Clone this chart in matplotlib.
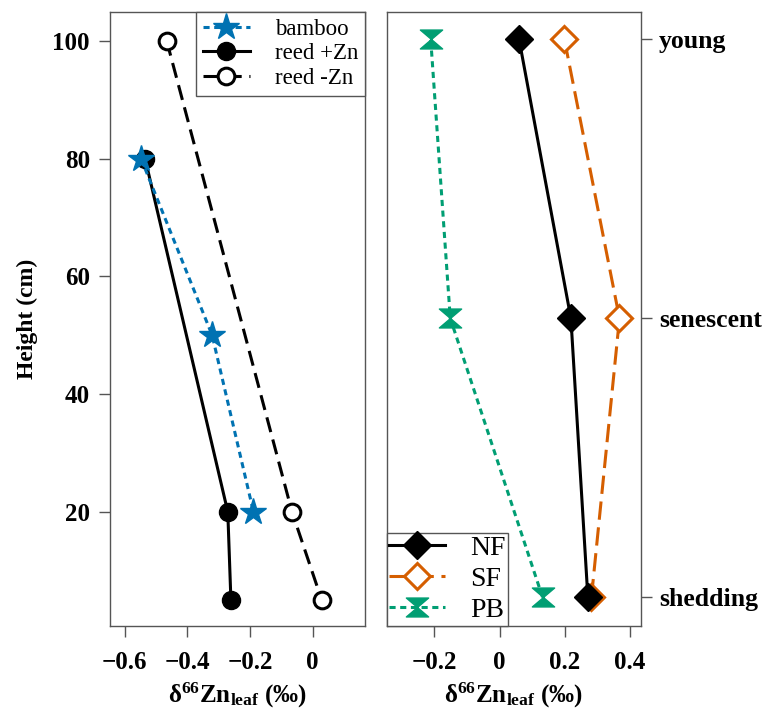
import matplotlib
matplotlib.use("Agg")
import matplotlib.pyplot as plt
from matplotlib.path import Path

# ---- data ----
height = [80, 50, 20]
bamboo = [-0.548, -0.321, -0.189]
height_reed = [100, 80, 20, 5]
reed_plus = [None, -0.535, -0.271, -0.261]
reed_minus = [-0.466, None, -0.066, 0.029]

stages = ["shedding", "senescent", "young"]
stage_pos = [1, 2, 3]
NF = [0.271, 0.219, 0.060]
SF = [0.282, 0.368, 0.199]
PB = [0.132, -0.151, -0.211]

left_xticks = [-0.6, -0.4, -0.2, 0]
left_xticklabels = ["\u22120.6", "\u22120.4", "\u22120.2", "0"]
left_yticks = [20, 40, 60, 80, 100]
right_xticks = [-0.2, 0, 0.2, 0.4]
right_xticklabels = ["\u22120.2", "0", "0.2", "0.4"]

BLUE = "#0072B2"
ORANGE = "#D55E00"
GREEN = "#009E73"
SPINE = "#555555"

plt.rcParams["font.family"] = ["Liberation Serif", "DejaVu Serif"]
plt.rcParams["mathtext.fontset"] = "custom"
plt.rcParams["mathtext.rm"] = "Liberation Serif:bold"
plt.rcParams["mathtext.bf"] = "Liberation Serif:bold"
plt.rcParams["mathtext.it"] = "Liberation Serif:bold"

hourglass = Path([(-1, 0.85), (1, 0.85), (-1, -0.85), (1, -0.85), (-1, 0.85)],
                 [Path.MOVETO, Path.LINETO, Path.LINETO, Path.LINETO, Path.CLOSEPOLY])

XLABEL = "$\\mathbf{\u03b4^{66}Zn_{leaf}}$ (\u2030)"

fig = plt.figure(figsize=(7.75, 7.11), dpi=100)
ax1 = fig.add_axes([110/775, 1-625.7/711, (365.3-110)/775, (625.7-12)/711])
ax2 = fig.add_axes([386.7/775, 1-625.7/711, (641-386.7)/775, (625.7-12)/711])

def pairs(xs, ys):
    px = [x for x, y in zip(xs, ys) if x is not None]
    py = [y for x, y in zip(xs, ys) if x is not None]
    return px, py

# left panel
x, y = pairs(reed_minus, height_reed)
ax1.plot(x, y, color="black", lw=2.2, ls=(0, (5, 2.5)), marker="o", ms=12,
         mfc="white", mec="black", mew=2.2, label="reed -Zn")
x, y = pairs(reed_plus, height_reed)
ax1.plot(x, y, color="black", lw=2.2, ls="-", marker="o", ms=13,
         mfc="black", mec="black", label="reed +Zn")
ax1.plot(bamboo, height, color=BLUE, lw=2.2, ls=(0, (2, 1.5)), marker="*", ms=20,
         mfc=BLUE, mec=BLUE, label="bamboo")

ax1.set_xlim(-0.647, 0.168)
ax1.set_ylim(0.66, 104.9)
ax1.set_xticks(left_xticks)
ax1.set_xticklabels(left_xticklabels)
ax1.set_yticks(left_yticks)
ax1.set_ylabel("Height (cm)", fontsize=17, fontweight="bold", labelpad=10)
ax1.set_xlabel(XLABEL, fontsize=18, fontweight="bold", labelpad=5)

h, l = ax1.get_legend_handles_labels()
order = [2, 1, 0]
leg1 = ax1.legend([h[i] for i in order], [l[i] for i in order], loc="upper right",
                  borderaxespad=0, fancybox=False, edgecolor=SPINE, fontsize=16.5,
                  handlelength=2.05, handletextpad=1.1, borderpad=0.3, labelspacing=0.15,
                  framealpha=1)
leg1.get_frame().set_linewidth(1.0)

# right panel
ax2.plot(NF, stage_pos, color="black", lw=2.2, ls="-", marker="D", ms=14,
         mfc="black", mec="black", label="NF")
ax2.plot(SF, stage_pos, color=ORANGE, lw=2.2, ls=(0, (6, 2.5)), marker="D", ms=13,
         mfc="white", mec=ORANGE, mew=2.2, label="SF", zorder=1.9)
ax2.plot(PB, stage_pos, color=GREEN, lw=2.2, ls=(0, (2, 1.5)), marker=hourglass, ms=16,
         mfc=GREEN, mec=GREEN, label="PB")

ax2.set_xlim(-0.346, 0.434)
ax2.set_ylim(0.898, 3.098)
ax2.set_xticks(right_xticks)
ax2.set_xticklabels(right_xticklabels)
ax2.set_yticks(stage_pos)
ax2.set_yticklabels(stages)
ax2.yaxis.tick_right()
ax2.set_xlabel(XLABEL, fontsize=18, fontweight="bold", labelpad=5)

leg2 = ax2.legend(loc="lower left", borderaxespad=0, fancybox=False, edgecolor=SPINE,
                  fontsize=20, handlelength=2.0, handletextpad=0.9, borderpad=0.1,
                  labelspacing=0.2, framealpha=1)
leg2.get_frame().set_linewidth(1.0)

for ax in (ax1, ax2):
    for s in ax.spines.values():
        s.set_color(SPINE)
        s.set_linewidth(1.0)
    ax.tick_params(direction="out", length=8, width=1, color=SPINE,
                   labelsize=18)
    ax.tick_params(axis="x", pad=10)
    ax.tick_params(axis="y", pad=6.5)
    for t in ax.get_xticklabels() + ax.get_yticklabels():
        t.set_fontweight("bold")
ax2.tick_params(axis="y", labelsize=18.5, pad=4.8)

fig.savefig("out.png", dpi=100)
